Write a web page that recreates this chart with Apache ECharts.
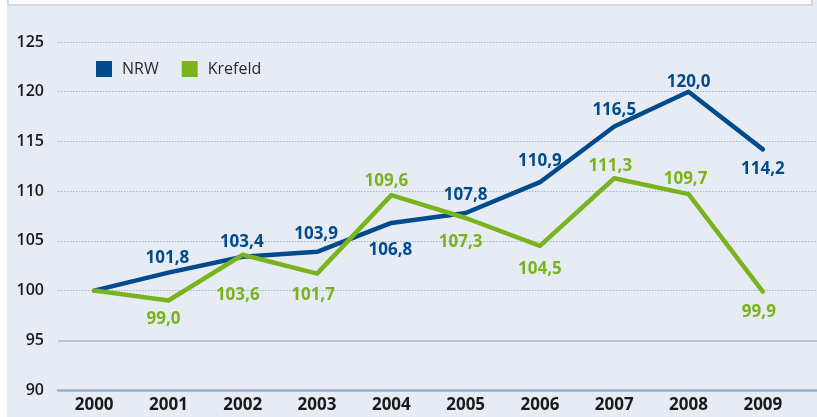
<!DOCTYPE html>
<html>
<head>
<meta charset="utf-8">
<script src="https://cdn.jsdelivr.net/npm/echarts@6/dist/echarts.min.js"></script>
<style>
  html, body { margin: 0; padding: 0; background: #fff; }
  #chart { width: 817px; height: 417px; }
</style>
</head>
<body>
<div id="chart"></div>
<script>
// data
let years = ['2000', '2001', '2002', '2003', '2004', '2005', '2006', '2007', '2008', '2009'];
let nrwValues = [100.0, 101.8, 103.4, 103.9, 106.8, 107.8, 110.9, 116.5, 120.0, 114.2];
let krefeldValues = [100.0, 99.0, 103.6, 101.7, 109.6, 107.3, 104.5, 111.3, 109.7, 99.9];
let yTicks = [90, 95, 100, 105, 110, 115, 120, 125];

// where each value label sits relative to its point (null = no label)
let nrwLabelOffsets = [null, [-1, -15], [-1, -15], [-1, -18], [-1, 27], [0, -18], [0, -21], [0, -16], [0, -10], [0, 20]];
let krefeldLabelOffsets = [null, [-5, 19], [-5, 40], [-4, 21], [-5, -14], [-5, 24], [0, 23], [-4, -12], [-3, -15], [-4, 21]];

const BLUE = '#004b8d';
const GREEN = '#79b41e';
const FONT = '"Open Sans", "DejaVu Sans", sans-serif';

let chart = echarts.init(document.getElementById('chart'), null, { renderer: 'canvas' });

function fmt(v) {
    return v.toFixed(1).replace('.', ',');
}

function buildData(values, offsets) {
    return values.map(function (v, i) {
        let off = offsets[i];
        return {
            value: v,
            label: off ? { show: true, position: 'inside', offset: off } : { show: false }
        };
    });
}

function lineSeries(name, values, offsets, color) {
    return {
        name: name,
        type: 'line',
        xAxisIndex: 1,
        yAxisIndex: 2,
        data: buildData(values, offsets),
        symbol: 'circle',
        symbolSize: 1,
        showSymbol: true,
        itemStyle: { color: color },
        lineStyle: { width: 4.5, color: color, cap: 'round', join: 'round' },
        label: {
            show: true,
            color: color,
            fontFamily: FONT,
            fontSize: 17,
            fontWeight: 'bold',
            formatter: function (p) { return fmt(p.value); }
        },
        emphasis: { disabled: true },
        animation: false
    };
}

let yMin = yTicks[0];
let yMax = yTicks[yTicks.length - 1];
let dotted = yTicks.map(function (t) { return t >= 100 ? '#a3b3cb' : 'transparent'; });
let solid = yTicks.map(function (t) { return t === 95 ? '#a9bcd7' : 'transparent'; });

let option = {
    backgroundColor: '#e7ecf4',
    animation: false,
    graphic: [
        { type: 'rect', shape: { x: 0, y: 0, width: 7, height: 417 }, style: { fill: '#ffffff' }, silent: true },
        { type: 'rect', shape: { x: 8, y: -10, width: 804, height: 15 }, style: { fill: '#ffffff', stroke: '#d2dae6', lineWidth: 2 }, silent: true }
    ],
    legend: {
        data: ['NRW', 'Krefeld'],
        left: 96,
        top: 61,
        padding: 0,
        icon: 'rect',
        itemWidth: 16,
        itemHeight: 16,
        itemGap: 23,
        textStyle: { fontFamily: FONT, fontSize: 16, color: '#2a2a2a', padding: [0, 0, 0, 5] },
        selectedMode: false
    },
    grid: [
        { left: 58, right: 0, top: 42, bottom: 27 },   // gridlines
        { left: 57, right: 17, top: 42, bottom: 27 }   // data
    ],
    xAxis: [
        {
            gridIndex: 0, type: 'value', min: 0, max: 1,
            axisLine: { show: true, onZero: false, lineStyle: { color: '#9bb1cf', width: 2.5 } },
            axisTick: { show: false }, axisLabel: { show: false }, splitLine: { show: false }
        },
        {
            gridIndex: 1, type: 'category', data: years, boundaryGap: true,
            axisLine: { show: false }, axisTick: { show: false },
            axisLabel: { fontFamily: FONT, fontSize: 17, fontWeight: 'bold', color: '#1a1a1a', margin: 7 }
        }
    ],
    yAxis: [
        {
            gridIndex: 0, type: 'value', min: yMin, max: yMax, interval: 5,
            axisLine: { show: false }, axisTick: { show: false },
            axisLabel: { fontFamily: FONT, fontSize: 16, fontWeight: 600, color: '#1a1a1a', margin: 14 },
            splitLine: { show: true, lineStyle: { color: dotted, type: [1.5, 1.5], width: 1 } }
        },
        {
            gridIndex: 0, type: 'value', min: yMin, max: yMax, interval: 5, position: 'left',
            axisLine: { show: false }, axisTick: { show: false }, axisLabel: { show: false },
            splitLine: { show: true, lineStyle: { color: solid, width: 1.5 } }
        },
        {
            gridIndex: 1, type: 'value', min: yMin, max: yMax, interval: 5, show: false,
            splitLine: { show: false }
        }
    ],
    series: [
        lineSeries('NRW', nrwValues, nrwLabelOffsets, BLUE),
        lineSeries('Krefeld', krefeldValues, krefeldLabelOffsets, GREEN)
    ]
};

chart.setOption(option);
window.onresize = function () { chart.resize(); };
</script>
</body>
</html>
